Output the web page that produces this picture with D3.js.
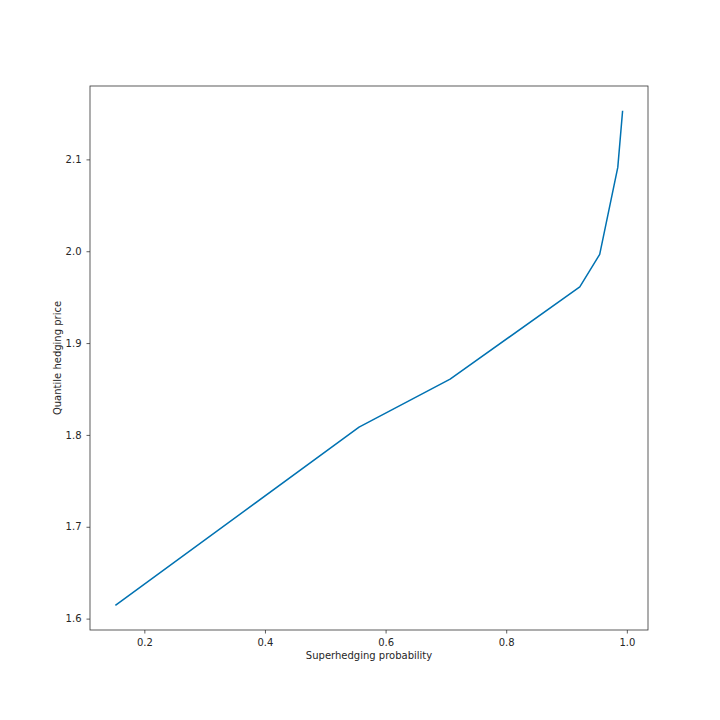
<!DOCTYPE html>
<html lang="en">
<head>
    <meta charset="UTF-8">
    <title>Quantile hedging price</title>
    <script src="https://d3js.org/d3.v7.min.js"></script>
    <style>
        body { margin: 0; background: #fff; }
        svg text { font-family: "DejaVu Sans", sans-serif; fill: #262626; }
    </style>
</head>
<body>
    <div id="chart"></div>
    <script>
        // superhedging probability vs quantile hedging price
        const probability = [0.152, 0.556, 0.707, 0.922, 0.955, 0.985, 0.993];
        const price = [1.6145, 1.8084, 1.8607, 1.9612, 1.9965, 2.0913, 2.153];
        const xTicks = [0.2, 0.4, 0.6, 0.8, 1.0];
        const yTicks = [1.6, 1.7, 1.8, 1.9, 2.0, 2.1];

        const width = 720, height = 720;
        const margin = { top: 86, right: 72, bottom: 90, left: 90 };

        const svg = d3.select('#chart')
                      .append('svg')
                      .attr('width', width)
                      .attr('height', height);

        const x = d3.scaleLinear()
                    .domain([0.1099, 1.0351])
                    .range([margin.left, width - margin.right]);
        const y = d3.scaleLinear()
                    .domain([1.5876, 2.1799])
                    .range([height - margin.bottom, margin.top]);

        const xAxis = svg.append('g')
            .attr('transform', `translate(0,${height - margin.bottom})`)
            .call(d3.axisBottom(x).tickValues(xTicks).tickFormat(d3.format('.1f')).tickSize(3.5).tickPadding(5));
        const yAxis = svg.append('g')
            .attr('transform', `translate(${margin.left},0)`)
            .call(d3.axisLeft(y).tickValues(yTicks).tickFormat(d3.format('.1f')).tickSize(3.5).tickPadding(5));

        [xAxis, yAxis].forEach(g => {
            g.select('.domain').remove();
            g.selectAll('line').attr('stroke', '#333').attr('stroke-width', 0.8);
            g.selectAll('text').attr('font-size', 10).style('fill', '#262626');
        });

        // frame
        svg.append('rect')
           .attr('x', margin.left)
           .attr('y', margin.top)
           .attr('width', width - margin.left - margin.right)
           .attr('height', height - margin.top - margin.bottom)
           .attr('fill', 'none')
           .attr('stroke', '#333')
           .attr('stroke-width', 0.8);

        const line = d3.line()
                       .x((d, i) => x(probability[i]))
                       .y(d => y(d));

        svg.append('path')
           .datum(price)
           .attr('d', line)
           .attr('fill', 'none')
           .attr('stroke', '#0072B2')
           .attr('stroke-width', 1.5)
           .attr('stroke-linejoin', 'round');

        svg.append('text')
           .attr('x', (margin.left + width - margin.right) / 2)
           .attr('y', 659)
           .attr('text-anchor', 'middle')
           .attr('font-size', 10)
           .text('Superhedging probability');

        svg.append('text')
           .attr('transform', `translate(61,${(margin.top + height - margin.bottom) / 2}) rotate(-90)`)
           .attr('text-anchor', 'middle')
           .attr('font-size', 10)
           .text('Quantile hedging price');
    </script>
</body>
</html>
